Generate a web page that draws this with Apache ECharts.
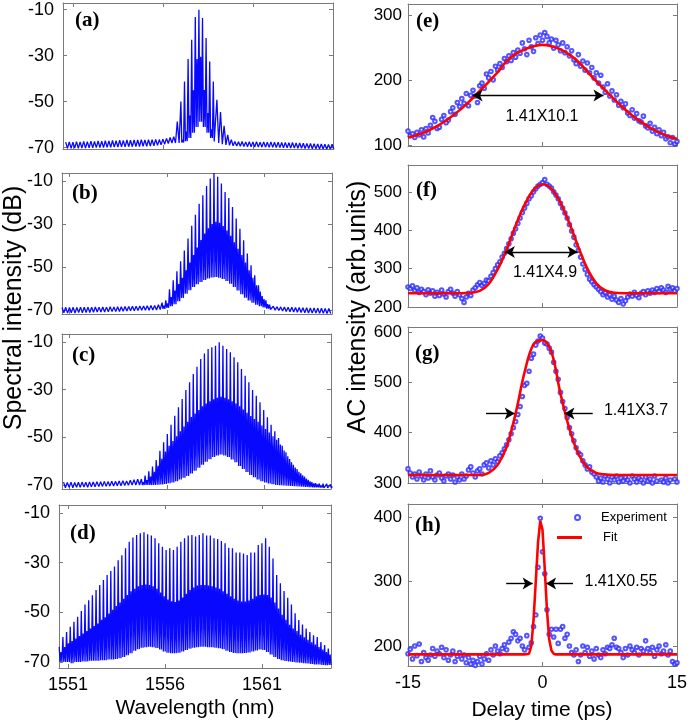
<!DOCTYPE html>
<html><head><meta charset="utf-8">
<script src="https://cdn.jsdelivr.net/npm/echarts@6/dist/echarts.min.js"></script>
<style>html,body{margin:0;padding:0;background:#fff}#c{width:691px;height:726px}</style>
</head><body><div id="c"></div>
<script>
// ---------------- tick labels ----------------
const waveTicks = [1551, 1556, 1561];
const specTicks = [-70, -50, -30, -10];
const delayTicks = [-15, 0, 15];
const eTicks = [100, 200, 300];
const fTicks = [200, 300, 400, 500];
const gTicks = [300, 400, 500, 600];
const hTicks = [200, 300, 400];

// ---------------- spectra: comb teeth (dB) ----------------
const aStart = 1550.6, aStep = 0.2;
const aPeaks = [-67.6,-67.5,-67.6,-67.4,-67.5,-67.3,-67.4,-67.2,-67.3,-67.1,
 -67.2,-67.0,-67.1,-66.9,-67.0,-66.8,-66.9,-66.7,-66.8,-66.6,
 -66.7,-66.5,-66.6,-66.5,-66.6,-66.4,-66.5,-66.3,-66.0,-65.6,
 -65.2,-58.7,-50.0,-41.2,-31.5,-23.1,-13.2,-10.0,-13.6,-22.3,
 -32.5,-41.2,-49.2,-54.5,-60.5,-64.5,-66.5,-67.3,-67.4,-67.3,
 -67.5,-67.4,-67.5,-67.4,-67.6,-67.5,-67.6,-67.5,-67.7,-67.6,
 -67.8,-67.7,-67.9,-67.8,-68.0,-68.0,-68.1,-68.2,-68.2,-68.3,
 -68.4,-68.4,-68.5,-68.6,-68.5];
const aValleys = [-70.3,-70.3,-70.2,-70.3,-70.2,-70.2,-70.1,-70.1,-70.0,-70.0,
 -70.0,-69.9,-69.9,-69.8,-69.8,-69.7,-69.7,-69.6,-69.6,-69.5,
 -69.5,-69.4,-69.4,-69.3,-69.2,-69.0,-68.8,-68.5,-68.2,-68.0,
 -68.0,-68.0,-67.8,-67.2,-65.8,-63.5,-61.0,-58.7,-61.0,-63.5,
 -65.8,-67.3,-68.0,-68.5,-68.8,-69.0,-69.2,-69.3,-69.4,-69.5,
 -69.6,-69.6,-69.7,-69.7,-69.8,-69.8,-69.9,-69.9,-70.0,-70.0,
 -70.1,-70.1,-70.2,-70.2,-70.3,-70.3,-70.4,-70.4,-70.5,-70.5,
 -70.6,-70.6,-70.7,-70.7,-70.8];
const aMids = [null,null,null,null,null,null,null,null,null,null,
 null,null,null,null,null,null,null,null,null,null,
 null,null,null,null,null,null,null,null,null,null,
 null,null,-66.5,-63,-56,-45,-31.5,-30.5,-45,-55,
 -62,-66.5,null,null,null,null,null,null,null,null,
 null,null,null,null,null,null,null,null,null,null,
 null,null,null,null,null,null,null,null,null,null,
 null,null,null,null,null];

const bStart = 1550.62, bStep = 0.19;
const bPeaks = [-68.9,-68.8,-68.9,-68.8,-68.9,-68.7,-68.8,-68.7,-68.8,-68.6,
 -68.7,-68.6,-68.7,-68.5,-68.6,-68.5,-68.5,-68.4,-68.4,-68.3,
 -68.3,-68.2,-68.2,-68.1,-68.0,-67.9,-67.6,-66.6,-65.5,-60.4,
 -56.2,-52.0,-47.4,-42.4,-36.8,-30.9,-25.7,-20.6,-16.7,-12.3,
 -8.9,-6.3,-8.1,-11.2,-15.1,-17.9,-22.1,-27.5,-32.2,-37.6,
 -43.8,-49.2,-53.9,-58.5,-63.5,-65.5,-67.5,-68.3,-68.5,-68.6,
 -68.7,-68.8,-68.8,-68.9,-68.9,-69.0,-69.0,-69.1,-69.1,-69.2,
 -69.2,-69.3,-69.3];
const bValleys = [-71.3,-71.5,-71.3,-71.4,-71.2,-71.3,-71.2,-71.2,-71.1,-71.0,
 -71.0,-71.0,-70.9,-70.8,-70.8,-70.7,-70.6,-70.5,-70.4,-70.4,
 -70.3,-70.2,-70.2,-70.1,-70.0,-70.0,-69.8,-69.5,-69.0,-68.3,
 -67.3,-66.0,-64.4,-62.5,-60.8,-59.3,-58.0,-57.0,-56.1,-55.4,
 -54.9,-54.7,-55.0,-55.6,-56.5,-57.8,-59.3,-61.0,-62.7,-64.3,
 -65.6,-66.7,-67.6,-68.3,-68.9,-69.4,-69.8,-70.1,-70.3,-70.5,
 -70.7,-70.9,-71.0,-71.1,-71.2,-71.3,-71.4,-71.5,-71.5,-71.6,
 -71.6,-71.7,-71.7];
const bMids = [null,null,null,null,null,null,null,null,null,null,
 null,null,null,null,null,null,null,null,null,null,
 null,null,null,null,null,null,null,-68,-67,-64,
 -61,-58,-55,-51.5,-48,-44.5,-41,-37.5,-34.5,-32,
 -30,-29,-29.5,-31,-33,-35.5,-38.5,-41.5,-44.5,-48,
 -51.5,-55,-58.5,-61.5,-65,-67.3,-69,null,null,null,
 null,null,null,null,null,null,null,null,null,null,
 null,null,null];

const cStart = 1550.7, cStep = 0.19;
const cPeaks = [-68.8,-69.0,-68.8,-69.0,-68.9,-68.8,-68.9,-68.7,-68.8,-68.6,
 -68.7,-68.5,-68.6,-68.4,-68.5,-68.3,-68.2,-68.3,-68.0,-67.8,
 -67.6,-67.5,-66.1,-64.3,-62.3,-59.5,-55.6,-52.1,-48.6,-44.7,
 -40.9,-37.4,-33.9,-30.1,-26.9,-23.4,-20.4,-17.1,-14.8,-12.9,
 -12.2,-11.5,-10.1,-11.5,-12.9,-14.3,-16.4,-18.5,-21.3,-24.1,
 -26.9,-30.1,-32.5,-35.3,-38.5,-41.6,-44.7,-47.5,-50.3,-53.5,
 -56.3,-59.1,-61.5,-63.3,-65.1,-66.5,-67.9,-68.8,-69.2,-69.4,
 -69.5,-69.6,-69.8];
const cValleys = [-71.2,-71.0,-71.2,-71.0,-71.0,-70.9,-71.0,-70.8,-70.8,-70.7,
 -70.6,-70.6,-70.5,-70.4,-70.3,-70.3,-70.2,-70.1,-70.0,-70.0,
 -70.0,-70.0,-70.0,-70.0,-70.0,-69.9,-69.8,-69.6,-69.3,-69.0,
 -68.4,-67.7,-67.0,-66.2,-65.2,-64.0,-62.8,-61.5,-60.3,-59.2,
 -58.3,-57.6,-57.2,-57.6,-58.3,-59.3,-60.5,-62.0,-63.3,-64.6,
 -65.8,-66.8,-67.7,-68.4,-69.0,-69.4,-69.7,-70.0,-70.1,-70.2,
 -70.3,-70.4,-70.5,-70.6,-70.7,-70.8,-70.9,-71.0,-71.0,-71.1,
 -71.2,-71.2,-71.3];
const cMids = [null,null,null,null,null,null,null,null,null,null,
 null,null,null,null,null,null,null,null,null,null,
 null,-68.8,-68,-66.5,-64.5,-62,-59,-56,-53.5,-51.5,
 -49.5,-47.5,-45.5,-43.5,-41.5,-40,-38.5,-37,-35.8,-34.8,
 -34,-33.4,-33,-33.4,-34,-34.8,-35.8,-37,-38.3,-39.7,
 -41,-42.3,-43.5,-45,-46.5,-48,-49.5,-51,-53,-55.5,
 -58,-60.5,-62.7,-64.5,-66,-67.3,-68.5,-69.3,-69.8,-70.2,
 -70.4,-70.5,-70.6];

const dStart = 1550.55, dStep = 0.19;
const dPeaks = [-63.9,-59.9,-57.9,-55.8,-53.8,-51.8,-49.5,-46.8,-45.1,-43.1,
 -41,-39,-37,-35,-33.4,-31.6,-29,-27,-24.2,-21.6,
 -19.9,-18.9,-18.2,-17.8,-18.6,-19.1,-20.2,-22.2,-23.6,-24.9,
 -24.2,-24.9,-23.6,-21.6,-20.2,-19.1,-18.9,-19.5,-18.9,-18.2,
 -19.1,-19.1,-20.2,-20.5,-21.3,-22.2,-24,-24.2,-25.9,-25.9,
 -26.3,-26.9,-25.9,-25.9,-22.9,-22.2,-20.2,-23.6,-28.3,-35,
 -38.3,-41.4,-44.1,-46.8,-50.4,-53.1,-54.9,-56.5,-57.9,-59.2,
 -59.9,-61.9,-63.2,-64.6];
const dValleys = [-70,-70,-70,-70.5,-70,-70,-69.8,-69.8,-69.5,-69.5,
 -69.5,-69.3,-69.3,-69,-69,-68.8,-68.5,-68,-67.3,-66.5,
 -65.5,-64.8,-64.2,-64,-63.8,-64,-64.3,-65,-65.8,-66.3,
 -66.5,-66.5,-66.3,-65.8,-65.2,-64.6,-64.2,-64,-63.8,-63.8,
 -64,-64,-64.2,-64.4,-64.8,-65.5,-66,-66.4,-66.5,-66.5,
 -66.4,-66.2,-65.8,-65.4,-65,-65.2,-66,-67,-68,-68.8,
 -69.3,-69.6,-69.8,-70,-70.2,-70.3,-70.5,-70.6,-70.8,-71,
 -71,-71.2,-71.3,-71.2];
const dMids = [-66,-64,-62.5,-61.5,-60.5,-59.5,-58.5,-57.5,-56.5,-55.5,
 -54.5,-53,-52,-50.5,-49,-47.5,-46,-44.5,-43,-41.5,
 -40.5,-39.5,-39,-38.8,-39,-39.5,-40.5,-42,-43.5,-44.8,
 -45.5,-45.8,-45.2,-44,-42.5,-41,-40,-39.2,-39,-39,
 -39.2,-39.5,-40,-40.5,-41.5,-42.5,-43.5,-44.5,-45.2,-45.6,
 -45.6,-45.2,-44.5,-43.5,-43,-42.8,-43,-44,-46,-48.5,
 -51,-53,-55,-56.5,-57.5,-59,-60,-61,-62,-63,
 -64,-65,-66,-67];

// ---------------- autocorrelation traces ----------------
const delayStart = -15, delayStep = 0.25;
const eExp = [122,115,118,112, 120,116,124,113, 126,119,131,143, 137,126,128,140,
 146,135,139,152, 158,148,166,160, 172,165,180,161, 177,185,176,166,
 192,196,188,210, 204,214,201,222, 216,226,220,234, 229,238,231,243,
 236,247,242,258, 249,240,262,252, 245,266,257,270, 262,274,268,258,
 264,250,262,255, 246,258,243,252, 238,246,232,226, 240,222,230,216,
 227,212,220,204, 212,196,208,190, 182,195,176,184, 170,178,162,168,
 158,164,150,146, 155,142,149,138, 136,145,130,127, 134,122,128,118,
 124,115,120,110, 113,104,112,102, 106];
const fExp = [252,248,255,243, 250,238,246,240, 232,245,236,242, 228,238,230,244,
 234,226,240,246, 236,228,240,232, 222,212,226,236, 230,244,250,258,
 264,256,262,270, 268,280,290,300, 310,318,330,340, 352,365,378,392,
 404,418,432,446, 458,470,482,490, 500,508,515,520, 524,532,520,515,
 510,500,492,482, 470,458,445,432, 415,398,382,362, 348,330,312,298,
 285,272,266,258, 252,246,240,232, 238,226,232,220, 228,218,212,222,
 208,216,226,234, 228,238,230,224, 236,240,232,242, 236,244,238,248,
 240,250,244,238, 254,246,250,242, 248];
const gExp = [328,320,312,318, 308,322,314,306, 318,310,324,312, 306,316,320,310,
 304,314,318,308, 316,302,312,306, 318,308,314,326, 332,320,312,324,
 328,318,336,340, 330,344,336,348, 342,354,360,368, 376,386,398,410,
 422,436,452,472, 494,498,522,548, 556,574,582,592, 588,578,576,568,
 560,540,522,506, 480,462,448,430, 410,398,384,370, 360,356,344,336,
 328,332,322,318, 312,304,310,302, 314,308,300,312, 306,314,302,310,
 304,312,306,300, 314,308,302,310, 306,300,312,304, 308,300,314,304,
 298,306,302,310, 300,306,298,308, 302];
const hExp = [188,195,180,200, 185,203,176,190, 182,178,186,196, 184,192,188,198,
 182,194,178,186, 192,176,184,190, 180,186,174,182, 172,178,170,176,
 184,172,180,188, 178,194,186,200, 192,188,196,202, 194,206,212,222,
 218,208,212,200, 194,216,198,205, 230,248,322,398, 346,312,256,218,
 226,214,226,204, 226,230,212,218, 200,190,186,194, 176,186,200,190,
 198,184,192,180, 196,186,182,194, 188,198,196,202, 212,198,196,190,
 182,196,186,200, 194,190,198,186, 196,192,208,196, 190,198,184,194,
 200,188,192,202, 186,192,176,172, 174];

const fitX = [-15,-14,-13,-12,-11,-10,-9,-8,-7,-6,-5,-4,-3,-2,-1,0,1,2,3,4,5,6,7,8,9,10,11,12,13,14,15];
const eFit = [112,116,121,128,136,146,157,170,184,198,213,230,241,248,253,255,253,248,240,229,214,199,185,171,158,146,136,127,120,114,110];
const fFit = [236,236,236,236,236,236,236,237,242,260,298,350,412,466,505,520,508,472,418,356,300,262,243,237,236,236,236,236,236,236,236];
const gFit = [316,316,316,316,316,316,316,316,316,320,336,372,438,520,576,584,560,478,408,358,331,320,317,316,316,316,316,316,316,316,316];
const hFitX = [-15,-3,-2,-1.5,-1.25,-1,-0.75,-0.5,-0.25,0,0.25,0.5,0.75,1,1.25,1.5,2,3,15];
const hFit = [187,187,187,188,200,240,300,360,394,380,320,255,210,193,188,187,187,187,187];

// annotation values (ps, AC level)
const eArrow = [-7.8, 6.8, 177];
const fArrow = [-4.2, 3.9, 343];
const gArrows = [[-6.3, -3.1, 438], [5.6, 2.45, 438]];
const hArrows = [[-4.05, -1.1, 297], [3.4, 0.4, 297]];
const pulseLabels = ['1.41X10.1', '1.41X4.9', '1.41X3.7', '1.41X0.55'];
const panelNames = ['(a)', '(b)', '(c)', '(d)', '(e)', '(f)', '(g)', '(h)'];

// ---------------- build ----------------
function comb(start, step, peaks, valleys, mids) {
  const pts = [];
  peaks.forEach((p, i) => {
    const x = start + i * step;
    pts.push([x, p]);
    if (mids[i] !== null) {
      pts.push([x + step / 4, valleys[i]]);
      pts.push([x + step / 2, mids[i]]);
      pts.push([x + 3 * step / 4, valleys[i]]);
    } else {
      pts.push([x + step / 2, valleys[i]]);
    }
  });
  return pts;
}
function delayPts(vals) { return vals.map((v, i) => [delayStart + i * delayStep, v]); }
function pairs(xs, ys) { return xs.map((x, i) => [x, ys[i]]); }

const grids = [
  {left: 63, top: 3, width: 270, height: 146},
  {left: 62, top: 173, width: 270, height: 141},
  {left: 62, top: 334, width: 269, height: 155},
  {left: 59, top: 505, width: 272, height: 163},
  {left: 408, top: 4, width: 269, height: 142},
  {left: 408, top: 165, width: 269, height: 142},
  {left: 408, top: 327, width: 269, height: 156},
  {left: 408, top: 504, width: 269, height: 162}
];
const xr = [[1550.45, 1565.45], [1550.62, 1564.46], [1550.62, 1564.41], [1550.54, 1564.56], [-15, 15], [-15, 15], [-15, 15], [-15, 15]];
const yr = [[-70.6, -7.1], [-71.9, -6.3], [-71.7, -6.6], [-72.4, -6.8], [99, 318], [200, 570], [300, 610], [169, 420]];
const xt = [waveTicks, waveTicks, waveTicks, waveTicks, delayTicks, delayTicks, delayTicks, delayTicks];
const yt = [specTicks, specTicks, specTicks, specTicks, eTicks, fTicks, gTicks, hTicks];

const FRAME = '#7a7a7a';
const SANS = 'Liberation Sans, Arial, sans-serif';
const plain = v => String(v);
const xAxes = [], yAxes = [];
grids.forEach((g, i) => {
  const showX = (i === 3 || i === 7);
  ['bottom', 'top'].forEach(pos => xAxes.push({
    type: 'value', gridIndex: i, position: pos, min: xr[i][0], max: xr[i][1],
    axisLine: {show: true, onZero: false, lineStyle: {color: FRAME, width: 1}},
    axisTick: {show: true, inside: true, length: 4, customValues: xt[i], lineStyle: {color: FRAME}},
    axisLabel: {show: showX && pos === 'bottom', customValues: xt[i], formatter: plain, margin: 8, color: '#000', fontFamily: SANS, fontSize: 18},
    splitLine: {show: false}
  }));
  ['left', 'right'].forEach(pos => yAxes.push({
    type: 'value', gridIndex: i, position: pos, min: yr[i][0], max: yr[i][1],
    axisLine: {show: true, onZero: false, lineStyle: {color: FRAME, width: 1}},
    axisTick: {show: true, inside: true, length: 4, customValues: yt[i], lineStyle: {color: FRAME}},
    axisLabel: {show: pos === 'left', customValues: yt[i], formatter: plain, margin: i < 4 ? 9 : 6, color: '#000', fontFamily: SANS, fontSize: i < 4 ? 18 : 17},
    splitLine: {show: false}
  }));
});

const BLUE = '#0808ff';
const specSets = [
  [aStart, aStep, aPeaks, aValleys, aMids],
  [bStart, bStep, bPeaks, bValleys, bMids],
  [cStart, cStep, cPeaks, cValleys, cMids],
  [dStart, dStep, dPeaks, dValleys, dMids]
];
const series = [];
specSets.forEach((s, i) => {
  series.push({
    type: 'line', name: 'spectrum ' + i, xAxisIndex: 2 * i, yAxisIndex: 2 * i,
    data: comb(s[0], s[1], s[2], s[3], s[4]), showSymbol: false, symbol: 'none',
    lineStyle: {color: BLUE, width: 1.3}, silent: true, animation: false
  });
});

function arrowLine(x1, x2, y, both) {
  return [{coord: [x1, y], symbol: both ? 'arrow' : 'none'}, {coord: [x2, y], symbol: 'arrow'}];
}
const acSets = [
  [eExp, pairs(fitX, eFit), [arrowLine(eArrow[0], eArrow[1], eArrow[2], true)]],
  [fExp, pairs(fitX, fFit), [arrowLine(fArrow[0], fArrow[1], fArrow[2], true)]],
  [gExp, pairs(fitX, gFit), gArrows.map(a => arrowLine(a[0], a[1], a[2], false))],
  [hExp, pairs(hFitX, hFit), hArrows.map(a => arrowLine(a[0], a[1], a[2], false))]
];
acSets.forEach((s, k) => {
  const i = k + 4;
  series.push({
    type: 'scatter', name: k === 3 ? 'Experiment' : 'Experiment ' + k, xAxisIndex: 2 * i, yAxisIndex: 2 * i,
    data: delayPts(s[0]), symbol: 'emptyCircle', symbolSize: 3.6,
    itemStyle: {color: '#2a2aff', borderColor: '#2a2aff', borderWidth: 0.7}, silent: true, animation: false
  });
  series.push({
    type: 'line', name: k === 3 ? 'Fit' : 'Fit ' + k, xAxisIndex: 2 * i, yAxisIndex: 2 * i,
    data: s[1], showSymbol: false, symbol: 'none', smooth: k === 3 ? false : 0.35,
    lineStyle: {color: '#ff0000', width: 2.6}, itemStyle: {color: '#ff0000'}, silent: true, animation: false, z: 3,
    markLine: {silent: true, animation: false, symbolSize: [9, 10], label: {show: false},
      lineStyle: {color: '#000', width: 1.4, type: 'solid'}, emphasis: {disabled: true}, data: s[2]}
  });
});

const graphic = [];
const labelPos = [[75, 10], [72, 183], [72, 345], [70, 523], [416, 11], [416, 180], [415, 343], [415, 515]];
panelNames.forEach((t, i) => graphic.push({
  type: 'text', x: labelPos[i][0], y: labelPos[i][1], silent: true,
  style: {text: t, font: 'bold 21px "Liberation Serif", "Times New Roman", serif', fill: '#000', textAlign: 'left', textVerticalAlign: 'top', align: 'left', verticalAlign: 'top'}
}));
const annPos = [[542, 117], [545, 273], [636, 411], [621, 582]];
pulseLabels.forEach((t, i) => graphic.push({
  type: 'text', x: annPos[i][0], y: annPos[i][1], silent: true,
  style: {text: t, font: '16px ' + SANS, fill: '#000', textAlign: 'center', textVerticalAlign: 'middle', align: 'center', verticalAlign: 'middle'}
}));
[['Spectral intensity (dB)', 14, 308], ['AC intensity (arb.units)', 358, 307]].forEach(a => graphic.push({
  type: 'text', x: a[1], y: a[2], rotation: Math.PI / 2, silent: true,
  style: {text: a[0], font: '25px ' + SANS, fill: '#000', textAlign: 'center', textVerticalAlign: 'middle', align: 'center', verticalAlign: 'middle'}
}));
[['Wavelength (nm)', 195, 708], ['Delay time (ps)', 542, 710]].forEach(a => graphic.push({
  type: 'text', x: a[1], y: a[2], silent: true,
  style: {text: a[0], font: '21px ' + SANS, fill: '#000', textAlign: 'center', textVerticalAlign: 'middle', align: 'center', verticalAlign: 'middle'}
}));

const chart = echarts.init(document.getElementById('c'), null, {renderer: 'canvas'});
chart.setOption({
  animation: false,
  grid: grids,
  xAxis: xAxes,
  yAxis: yAxes,
  series: series,
  legend: [
    {data: [{name: 'Experiment', icon: 'emptyCircle'}], left: 574, top: 511, orient: 'vertical', itemWidth: 25, itemHeight: 5, padding: 0,
      selectedMode: false, textStyle: {fontFamily: SANS, fontSize: 13, color: '#000', padding: [0, 0, 0, 6]}},
    {data: [{name: 'Fit', icon: 'rect'}], left: 557, top: 531, orient: 'vertical', itemWidth: 25, itemHeight: 3, padding: 0,
      selectedMode: false, itemStyle: {color: '#ff0000'}, textStyle: {fontFamily: SANS, fontSize: 13, color: '#000', padding: [0, 0, 0, 16]}}
  ],
  graphic: graphic
});
</script></body></html>
